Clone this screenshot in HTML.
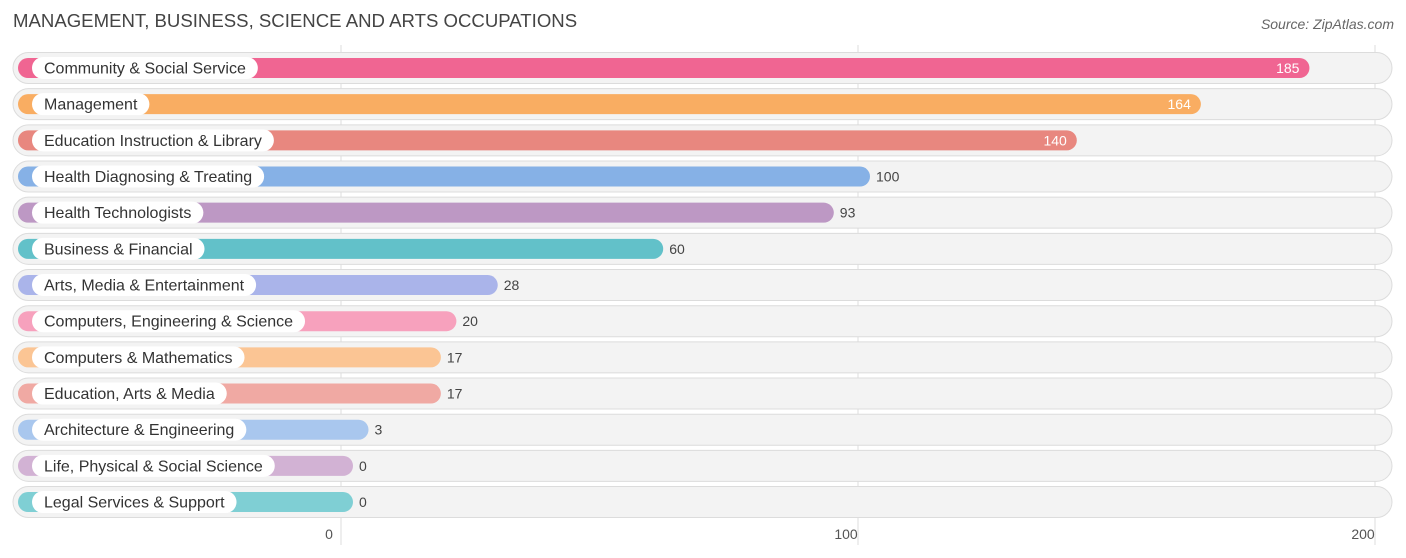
<!DOCTYPE html>
<html><head><meta charset="utf-8"><style>
body{margin:0;background:#fff;font-family:"Liberation Sans",sans-serif}
svg{display:block}
</style></head><body>
<svg id="c" width="1406" height="558">
<text x="13" y="27" font-size="18.6" fill="#444">MANAGEMENT, BUSINESS, SCIENCE AND ARTS OCCUPATIONS</text>
<text x="1394" y="29" font-size="14" fill="#666" font-style="italic" text-anchor="end">Source: ZipAtlas.com</text>
</svg>
<script>
const categories=["Community & Social Service","Management","Education Instruction & Library","Health Diagnosing & Treating","Health Technologists","Business & Financial","Arts, Media & Entertainment","Computers, Engineering & Science","Computers & Mathematics","Education, Arts & Media","Architecture & Engineering","Life, Physical & Social Science","Legal Services & Support"];
const values=[185,164,140,100,93,60,28,20,17,17,3,0,0];
const tickValues=[0,100,200];
const tickLabels=["0","100","200"];
const colors=["#f06592","#f9ad62","#e8877f","#86b1e6","#bd98c4","#62c1c9","#aab4ea","#f7a1bd","#fbc594","#f0a9a3","#a9c7ee","#d2b2d4","#7fcfd4"];
const svg=document.getElementById('c');const NS="http://www.w3.org/2000/svg";
const x=v=>341+v*5.17;
const yc=i=>68+i*36.17;
function mk(t,a,p){const e=document.createElementNS(NS,t);for(const k in a)e.setAttribute(k,a[k]);(p||svg).appendChild(e);return e;}
tickValues.forEach((t,i)=>{
 const l=mk('line',{x1:x(t),x2:x(t),y1:45,y2:545,stroke:'#ddd','stroke-width':1});
 
 
});
categories.forEach((c,i)=>{
 const g=mk('g',{});
 
 
 const y=yc(i);
 const bg=mk('rect',{x:13,y:y-15.5,width:1379,height:31,rx:15.5,fill:'#f3f3f3',stroke:'#dcdcdc','stroke-width':1},g);
 
 
 const end=x(values[i])+12;
 const b=mk('rect',{x:18,y:y-10,width:end-18,height:20,rx:10,fill:colors[i]},g);
 
 
 const t=mk('text',{x:44,y:y+5.5,'font-size':16,fill:'#333'},g);t.textContent=c;
 const w=t.getComputedTextLength();
 const p=mk('rect',{x:32,y:y-11,width:w+24,height:22,rx:11,fill:'#fff'},g);
 g.insertBefore(p,t);
 
 
 
 
 const inside=values[i]>=120;
 const v=mk('text',{x:inside?end-10:end+6,y:y+5,'font-size':14,fill:inside?'#fff':'#444','text-anchor':inside?'end':'start'},g);
 v.textContent=values[i];
 
 
});
tickValues.forEach((t,i)=>{
 const tx=mk('text',{x:x(t)-12,y:539,'font-size':14,fill:'#555','text-anchor':'middle'});
 tx.textContent=tickLabels[i];
 
 
});
</script>
</body></html>
